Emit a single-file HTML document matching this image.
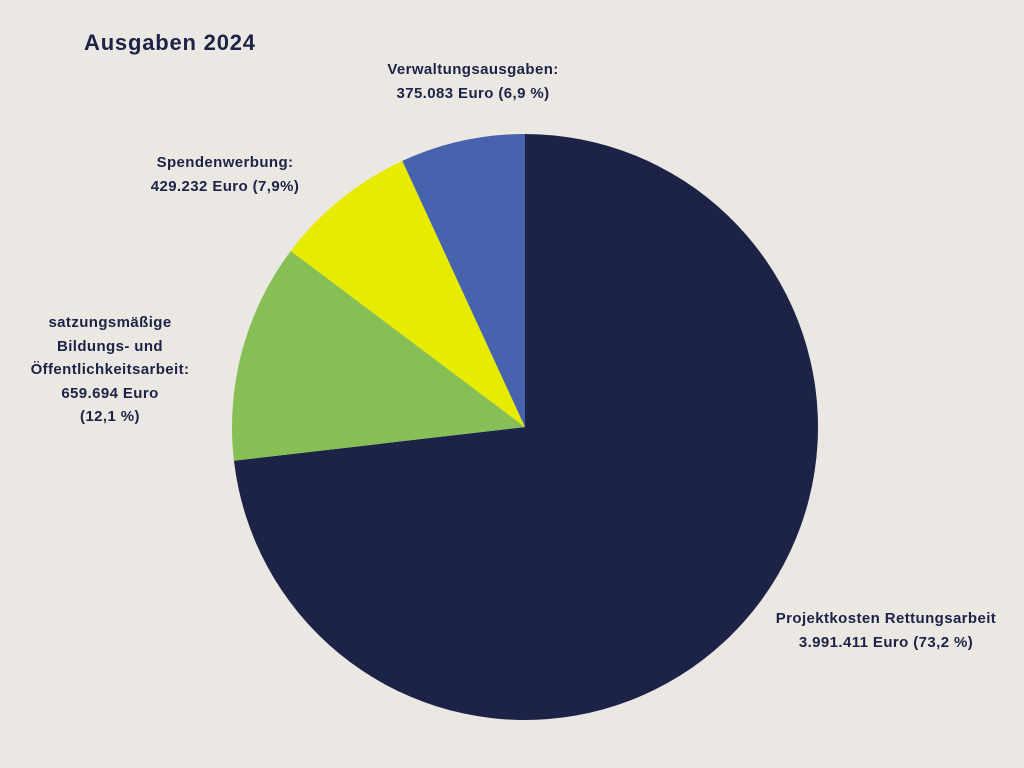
<!DOCTYPE html>
<html>
<head>
<meta charset="utf-8">
<style>
  html,body{margin:0;padding:0;}
  body{width:1024px;height:768px;background:#ebe8e3;position:relative;overflow:hidden;
    font-family:"Liberation Sans",sans-serif;color:#1c2346;}
  .lbl{position:absolute;font-size:15px;font-weight:bold;text-align:center;line-height:24px;white-space:nowrap;letter-spacing:0.4px;}
  #title{position:absolute;left:84px;top:30px;font-size:22px;font-weight:bold;letter-spacing:0.8px;}
</style>
</head>
<body>
<div id="title">Ausgaben 2024</div>
<svg id="chart" width="1024" height="768" style="position:absolute;left:0;top:0"></svg>
<div class="lbl" style="left:756px;top:607px;width:260px">Projektkosten Rettungsarbeit<br>3.991.411 Euro (73,2 %)</div>
<div class="lbl" style="left:10px;top:311px;width:200px;line-height:23.5px">satzungsmäßige<br>Bildungs- und<br>Öffentlichkeitsarbeit:<br>659.694 Euro<br>(12,1 %)</div>
<div class="lbl" style="left:117px;top:151px;width:216px">Spendenwerbung:<br>429.232 Euro (7,9%)</div>
<div class="lbl" style="left:358px;top:58px;width:230px">Verwaltungsausgaben:<br>375.083 Euro (6,9 %)</div>
<script>
const categories = ["Projektkosten Rettungsarbeit","satzungsmäßige Bildungs- und Öffentlichkeitsarbeit","Spendenwerbung","Verwaltungsausgaben"];
const values = [3991411, 659694, 429232, 375083];
const colors = ["#1c2346","#86bf56","#e6eb00","#4763ad"];
const sliceNames = ["slice-projektkosten","slice-bildung","slice-spendenwerbung","slice-verwaltung"];
const svg = document.getElementById('chart');
const cx = 525, cy = 427, r = 293;
const total = values.reduce((a,b)=>a+b,0);
function pt(frac){const a=frac*2*Math.PI;return [cx+r*Math.sin(a), cy-r*Math.cos(a)];}
let acc = 0;
values.forEach((v,i)=>{
  const f0 = acc/total, f1 = (acc+v)/total; acc += v;
  const [x0,y0]=pt(f0),[x1,y1]=pt(f1);
  const large = (f1-f0)>0.5?1:0;
  const p = document.createElementNS('http://www.w3.org/2000/svg','path');
  p.setAttribute('d',`M${cx},${cy} L${x0},${y0} A${r},${r} 0 ${large} 1 ${x1},${y1} Z`);
  p.setAttribute('fill',colors[i]);
  
  
  svg.appendChild(p);
});
</script>
</body>
</html>
